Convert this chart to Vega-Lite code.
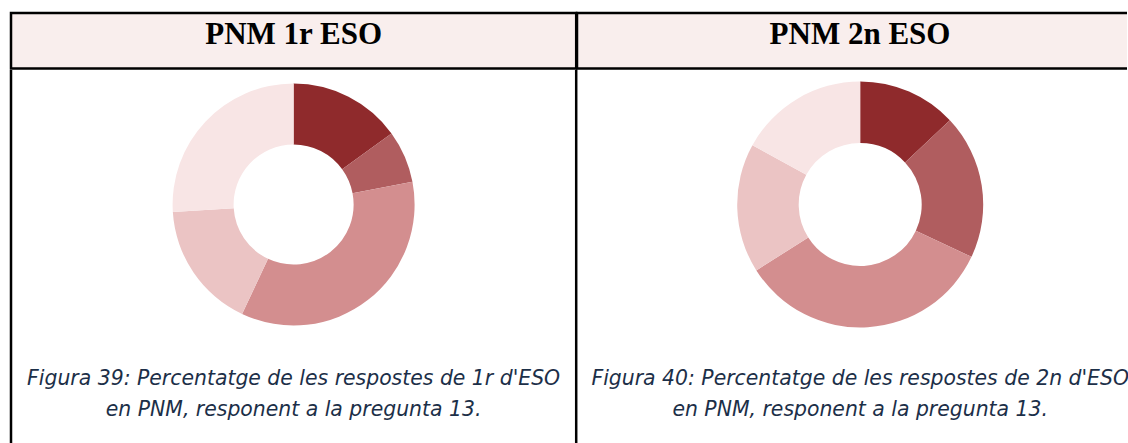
{
  "$schema": "https://vega.github.io/schema/vega-lite/v6.json",
  "background": "white",
  "padding": {"left": 9, "top": 11, "right": 0, "bottom": 0},
  "config": {"view": {"stroke": null}},
  "datasets": {
    "p1": [
      {"cat": "R1", "value": 15},
      {"cat": "R2", "value": 7},
      {"cat": "R3", "value": 35},
      {"cat": "R4", "value": 17},
      {"cat": "R5", "value": 26}
    ],
    "p2": [
      {"cat": "R1", "value": 13},
      {"cat": "R2", "value": 19},
      {"cat": "R3", "value": 34},
      {"cat": "R4", "value": 17},
      {"cat": "R5", "value": 17}
    ]
  },
  "spacing": -2.5,
  "vconcat": [
    {
      "spacing": 0,
      "bounds": "flush",
      "hconcat": [
        {
          "width": 565.2, "height": 55.5,
          "view": {"fill": "#F9EEED", "stroke": "black", "strokeWidth": 2.5},
          "data": {"values": [{"t": "PNM 1r ESO"}]},
          "mark": {"type": "text", "font": "Liberation Serif", "fontWeight": "bold", "fontSize": 31, "baseline": "alphabetic", "dy": 3, "color": "black"},
          "encoding": {"text": {"field": "t", "type": "nominal"}}
        },
        {
          "width": 550, "height": 55.5,
          "view": {"fill": "#F9EEED", "stroke": "black", "strokeWidth": 2.5, "strokeDash": [550, 55.5, 605.5]},
          "data": {"values": [{"t": "PNM 2n ESO"}]},
          "mark": {"type": "text", "font": "Liberation Serif", "fontWeight": "bold", "fontSize": 31, "baseline": "alphabetic", "dy": 3, "dx": 8, "color": "black"},
          "encoding": {"text": {"field": "t", "type": "nominal"}}
        }
      ]
    },
    {
      "columns": 3,
      "spacing": 0,
      "bounds": "flush",
      "align": "each",
      "concat": [
        {
          "width": 565.2, "height": 269,
          "view": {"stroke": "black", "strokeWidth": 2.5, "strokeDash": [269, 565.2], "strokeDashOffset": 269},
          "data": {"name": "p1"},
          "mark": {"type": "arc", "outerRadius": 121, "innerRadius": 60},
          "encoding": {
            "theta": {"field": "value", "type": "quantitative", "stack": true},
            "color": {"field": "cat", "type": "nominal", "legend": null,
              "scale": {"domain": ["R1", "R2", "R3", "R4", "R5"], "range": ["#8F2A2C", "#B05D5F", "#D38E8F", "#EBC4C4", "#F8E5E5"]}},
            "order": {"field": "cat", "type": "ordinal"}
          }
        },
        {
          "width": 15.6, "height": 269,
          "data": {"values": [{"t": "a"}]},
          "mark": {"type": "text", "opacity": 0},
          "encoding": {"text": {"field": "t", "type": "nominal"}}
        },
        {
          "width": 534.4, "height": 269,
          "data": {"name": "p2"},
          "mark": {"type": "arc", "outerRadius": 123, "innerRadius": 61.5},
          "encoding": {
            "theta": {"field": "value", "type": "quantitative", "stack": true},
            "color": {"field": "cat", "type": "nominal", "legend": null,
              "scale": {"domain": ["R1", "R2", "R3", "R4", "R5"], "range": ["#8F2A2C", "#B05D5F", "#D38E8F", "#EBC4C4", "#F8E5E5"]}},
            "order": {"field": "cat", "type": "ordinal"}
          }
        },
        {
          "width": 565.2, "height": 104,
          "view": {"stroke": "black", "strokeWidth": 2.5, "strokeDash": [104, 565.2], "strokeDashOffset": 104},
          "data": {"values": [{"t": "Figura 39: Percentatge de les respostes de 1r d'ESO\nen PNM, responent a la pregunta 13."}]},
          "mark": {"type": "text", "font": "DejaVu Sans", "fontStyle": "italic", "fontSize": 20.4, "color": "#1C2F48", "baseline": "alphabetic", "lineBreak": "\n", "lineHeight": 30.5, "dy": -6},
          "encoding": {"text": {"field": "t", "type": "nominal"}}
        },
        {
          "width": 15.6, "height": 104,
          "data": {"values": [{"t": "a"}]},
          "mark": {"type": "text", "opacity": 0},
          "encoding": {"text": {"field": "t", "type": "nominal"}}
        },
        {
          "width": 534.4, "height": 104,
          "data": {"values": [{"t": "Figura 40: Percentatge de les respostes de 2n d'ESO\nen PNM, responent a la pregunta 13."}]},
          "mark": {"type": "text", "font": "DejaVu Sans", "fontStyle": "italic", "fontSize": 20.4, "color": "#1C2F48", "baseline": "alphabetic", "lineBreak": "\n", "lineHeight": 30.5, "dy": -6},
          "encoding": {"text": {"field": "t", "type": "nominal"}}
        }
      ]
    }
  ]
}
